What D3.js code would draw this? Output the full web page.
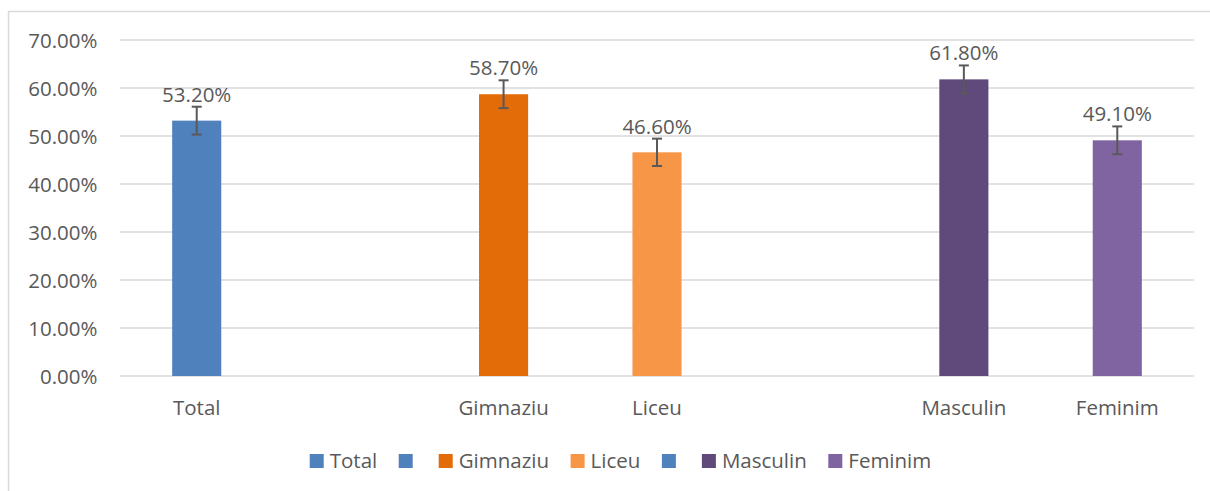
<!DOCTYPE html>
<html>
<head>
<meta charset="utf-8">
<script src="https://cdn.jsdelivr.net/npm/d3@7"></script>
<style>
  html, body { margin: 0; padding: 0; background: #fff; }
  svg { display: block; }
  text { font-family: "Open Sans", sans-serif; fill: #595959; }
</style>
</head>
<body>
<script>
// ---- data ----
const categories = ["Total", "", "Gimnaziu", "Liceu", " ", "Masculin", "Feminim"];
const values = [53.2, null, 58.7, 46.6, null, 61.8, 49.1];
const errors = [2.9, null, 2.9, 2.85, null, 2.9, 2.9];
const colors = ["#4F81BD", null, "#E36C09", "#F79646", null, "#604A7B", "#8064A2"];
const legendLabels = ["Total", "", "Gimnaziu", "Liceu", "", "Masculin", "Feminim"];
const legendColors = ["#4F81BD", "#4F81BD", "#E36C09", "#F79646", "#4F81BD", "#604A7B", "#8064A2"];
const yTicks = [0, 10, 20, 30, 40, 50, 60, 70];

const W = 1210, H = 491;
const margin = { left: 120, right: 16, top: 40, bottom: 115 };
const fs = 20.5;

const svg = d3.select("body").append("svg").attr("width", W).attr("height", H);

// frame
svg.append("path")
  .attr("d", `M8.5,${H + 2} V11.5 H${W + 2}`)
  .attr("fill", "none").attr("stroke", "#D9D9D9").attr("stroke-width", 1.5);

const x = d3.scaleBand().domain(d3.range(categories.length))
  .range([margin.left, W - margin.right]).paddingInner(0.68).paddingOuter(0.34);
const y = d3.scaleLinear().domain([0, 70]).range([H - margin.bottom, margin.top]);

// gridlines
svg.append("g").selectAll("line").data(yTicks).join("line")
  .attr("x1", margin.left).attr("x2", W - margin.right)
  .attr("y1", d => y(d)).attr("y2", d => y(d))
  .attr("stroke", "#D9D9D9").attr("stroke-width", 1.5);

// y axis labels
const yAxis = d3.axisLeft(y).tickValues(yTicks).tickSize(0).tickPadding(0)
  .tickFormat(d => d.toFixed(2) + "%");
const gy = svg.append("g").attr("transform", "translate(97.5,0)").call(yAxis);
gy.select(".domain").remove();
gy.selectAll("text").attr("font-size", fs).attr("font-family", "Open Sans, sans-serif")
  .attr("fill", "#595959").attr("dy", "0.36em");

// x axis labels
const xAxis = d3.axisBottom(x).tickSize(0).tickPadding(0).tickFormat(i => categories[i]);
const gx = svg.append("g").attr("transform", `translate(0,${y(0)})`).call(xAxis);
gx.select(".domain").remove();
gx.selectAll("text").attr("font-size", fs).attr("font-family", "Open Sans, sans-serif")
  .attr("fill", "#595959").attr("dy", null).attr("y", 39);

const idx = d3.range(categories.length).filter(i => values[i] != null);

// bars
svg.append("g").selectAll("rect").data(idx).join("rect")
  .attr("x", i => x(i)).attr("width", x.bandwidth())
  .attr("y", i => y(values[i])).attr("height", i => y(0) - y(values[i]))
  .attr("fill", i => colors[i]);

// error bars
const eb = svg.append("g").attr("stroke", "#595959").attr("stroke-width", 2);
idx.forEach(i => {
  const cx = x(i) + x.bandwidth() / 2;
  const top = y(values[i] + errors[i]), bot = y(values[i] - errors[i]);
  eb.append("line").attr("x1", cx).attr("x2", cx).attr("y1", top).attr("y2", bot);
  eb.append("line").attr("x1", cx - 5).attr("x2", cx + 5).attr("y1", top).attr("y2", top);
  eb.append("line").attr("x1", cx - 5).attr("x2", cx + 5).attr("y1", bot).attr("y2", bot);
});

// value labels
svg.append("g").selectAll("text").data(idx).join("text")
  .attr("x", i => x(i) + x.bandwidth() / 2)
  .attr("y", i => y(values[i] + errors[i]) - 5)
  .attr("text-anchor", "middle").attr("font-size", fs)
  .text(i => values[i].toFixed(2) + "%");

// legend
const lg = svg.append("g");
const items = lg.selectAll("g").data(legendLabels).join("g");
items.append("rect").attr("width", 14).attr("height", 14).attr("y", -14)
  .attr("fill", (d, i) => legendColors[i]);
items.append("text").attr("x", 20).attr("y", -0.5).attr("font-size", fs).text(d => d);
let cursor = 0;
items.each(function(d) {
  const tw = d ? this.querySelector("text").getComputedTextLength() : 0;
  d3.select(this).attr("transform", `translate(${cursor},0)`);
  cursor += 14 + 6 + tw + (d ? 21.5 : 20);
});
const totalW = cursor - 21.5;
lg.attr("transform", `translate(${620.5 - totalW / 2},468)`);
</script>
</body>
</html>
